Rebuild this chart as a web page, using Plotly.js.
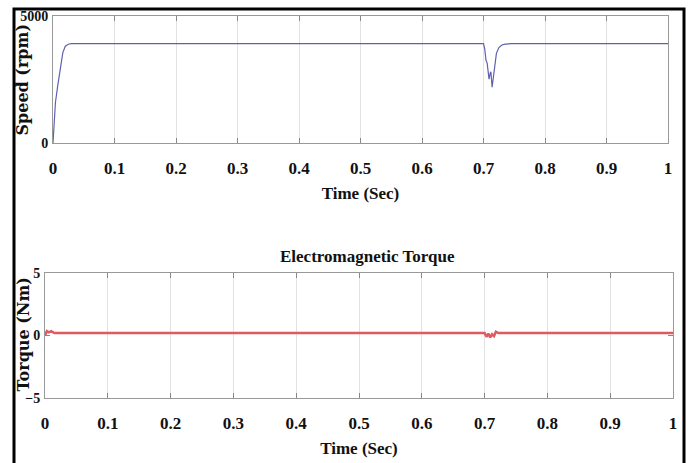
<!DOCTYPE html>
<html><head><meta charset="utf-8">
<script src="https://cdn.plot.ly/plotly-3.0.1.min.js"></script>
<style>html,body{margin:0;padding:0;background:#fff;}#c{width:689px;height:463px;}</style>
</head><body><div id="c"></div>
<script>
// Speed (rpm) vs time (s)
var speedTime = [0, 0.002, 0.004, 0.008, 0.012, 0.016, 0.02, 0.025, 0.03, 0.04, 0.7, 0.702, 0.704, 0.706, 0.708, 0.709, 0.711, 0.712, 0.714, 0.717, 0.721, 0.725, 0.73, 0.735, 0.745, 1.0];
var speedVals = [0, 1100, 1600, 2300, 2950, 3550, 3800, 3880, 3900, 3900, 3900, 3700, 3260, 3130, 2800, 2510, 2750, 2800, 2190, 2800, 3520, 3750, 3850, 3885, 3900, 3900];
// Electromagnetic torque (Nm) vs time (s)
var torqueTime = [0, 0.003, 0.006, 0.01, 0.015, 0.7, 0.703, 0.706, 0.709, 0.712, 0.715, 0.718, 0.722, 1.0];
var torqueVals = [0, 0.35, 0.25, 0.35, 0.2, 0.2, -0.1, 0.15, -0.15, 0.1, -0.05, 0.3, 0.2, 0.2];
var xTicks = [0, 0.1, 0.2, 0.3, 0.4, 0.5, 0.6, 0.7, 0.8, 0.9, 1];
var xTickText = ['0', '0.1', '0.2', '0.3', '0.4', '0.5', '0.6', '0.7', '0.8', '0.9', '1'];
var speedTicks = [0, 5000];
var torqueTicks = [-5, 0, 5];

var W = 689, H = 463;
var serif = 'Liberation Serif';
var tickFont = {family: serif, size: 17, color: '#111', weight: 'bold'};
function xa(dom, anchor) {
  return {domain: dom, anchor: anchor, range: [0, 1], tickvals: xTicks, ticktext: xTickText,
    showgrid: true, gridcolor: '#e2e2e2', gridwidth: 1, zeroline: false,
    showline: true, linecolor: '#999', linewidth: 1, mirror: 'ticks',
    ticks: 'inside', ticklen: 5, tickcolor: '#888', tickfont: tickFont, ticklabelstandoff: 10,
    title: {text: '<b>Time (Sec)</b>', font: {family: serif, size: 17, color: '#111'}, standoff: 9}};
}
function ya(dom, anchor, rng, tv) {
  return {domain: dom, anchor: anchor, range: rng, tickvals: tv,
    showgrid: false, zeroline: false, showline: true, linecolor: '#999', linewidth: 1, mirror: 'ticks',
    ticks: 'inside', ticklen: 5, tickcolor: '#888', tickfont: {family: serif, size: 14, color: '#111', weight: 'bold'}, ticklabelstandoff: 1};
}
var yTitleFont = {family: 'DejaVu Serif', size: 16, color: '#111'};
var data = [
  {x: speedTime, y: speedVals, xaxis: 'x', yaxis: 'y', mode: 'lines', line: {color: '#6060b0', width: 1.2}, hoverinfo: 'none'},
  {x: torqueTime, y: torqueVals, xaxis: 'x2', yaxis: 'y2', mode: 'lines', line: {color: '#e05a62', width: 2.5}, hoverinfo: 'none'}
];
var layout = {
  width: W, height: H, margin: {l: 0, r: 0, t: 0, b: 0},
  paper_bgcolor: '#fff', plot_bgcolor: '#fff', showlegend: false,
  xaxis: xa([53 / W, 668 / W], 'y'),
  yaxis: ya([1 - 143 / H, 1 - 15.7 / H], 'x', [0, 5000], speedTicks),
  xaxis2: xa([45 / W, 673 / W], 'y2'),
  yaxis2: ya([1 - 398 / H, 1 - 273 / H], 'x2', [-5, 5], torqueTicks),
  annotations: [
    {text: '<b>Electromagnetic Torque</b>', xref: 'paper', yref: 'paper', x: 367 / W, y: 1 - 256 / H,
      showarrow: false, font: {family: serif, size: 17, color: '#111'}, xanchor: 'center', yanchor: 'middle'},
    {text: '<b>Speed (rpm)</b>', xref: 'paper', yref: 'paper', x: 21.5 / W, y: 1 - 80 / H, textangle: -90,
      showarrow: false, font: yTitleFont, xanchor: 'center', yanchor: 'middle'},
    {text: '<b>Torque (Nm)</b>', xref: 'paper', yref: 'paper', x: 22.5 / W, y: 1 - 335 / H, textangle: -90,
      showarrow: false, font: yTitleFont, xanchor: 'center', yanchor: 'middle'}
  ],
  shapes: [{type: 'rect', xref: 'paper', yref: 'paper', x0: 14 / W, x1: 684 / W, y0: -0.05, y1: 1 - 9 / H,
    line: {color: '#000', width: 3}}]
};
Plotly.newPlot('c', data, layout, {staticPlot: true, displayModeBar: false});
</script></body></html>
